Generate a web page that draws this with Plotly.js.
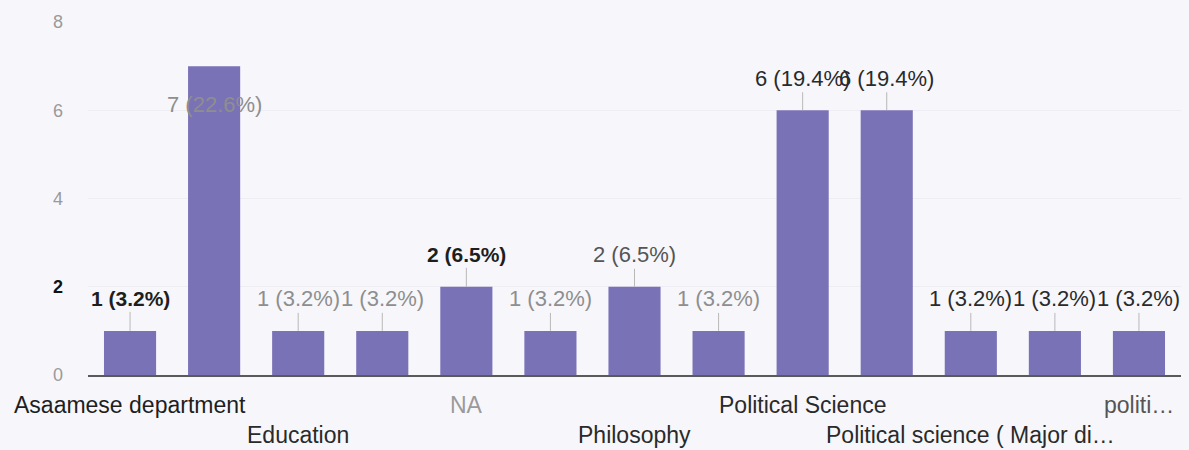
<!DOCTYPE html>
<html>
<head>
<meta charset="utf-8">
<script src="https://cdn.plot.ly/plotly-3.0.1.min.js"></script>
<style>
  html, body { margin: 0; padding: 0; background: #f7f7fb; }
  #chart { width: 1189px; height: 450px; }
</style>
</head>
<body>
<div id="chart"></div>
<script>
// Categories (Google Forms ordering); hidden ones are not labelled on the axis
const categories = [
  "Asaamese department", "Assamese", "Education", "English", "NA", "No department",
  "Philosophy", "Political", "Political Science", "Political science",
  "Political science ( Major di…", "Political science department", "politi…"
];
// Response counts
const counts = [1, 7, 1, 1, 2, 1, 2, 1, 6, 6, 1, 1, 1];
// Axis labels shown under the bars ("" = not shown); row 1 or row 2
const tickLabels = [
  "Asaamese department", "", "Education", "", "NA", "",
  "Philosophy", "", "Political Science", "", "Political science ( Major di…", "", "politi…"
];
const tickRows = [1, 0, 2, 0, 1, 0, 2, 0, 1, 0, 2, 0, 1];
const tickColors = ["#1e1e1e", "", "#2a2a2a", "", "#9a9a9a", "", "#2a2a2a", "", "#2a2a2a", "", "#2a2a2a", "", "#555555"];
// Value label colours (scan varies between dark and grey)
const labelColors = ["#1e1e1e", "#8e8e8e", "#8e8e8e", "#8e8e8e", "#1e1e1e", "#8e8e8e",
                     "#555555", "#8e8e8e", "#2a2a2a", "#2a2a2a", "#2a2a2a", "#2a2a2a", "#2a2a2a"];
const yTickVals = [0, 2, 4, 6, 8];
const yTickText = ["0", "<b><span style='color:#111'>2</span></b>", "4", "6", "8"];

const total = counts.reduce((a, b) => a + b, 0);
const maxCount = Math.max(...counts);
const FONT = "Liberation Sans, Arial, sans-serif";

const annotations = [];
counts.forEach((v, i) => {
  const txt = v + " (" + (v / total * 100).toFixed(1) + "%)";
  const bold = labelColors[i] === "#1e1e1e";
  if (v === maxCount) {
    // label drawn inside the tallest bar, below its top
    annotations.push({
      x: categories[i], y: v, xref: "x", yref: "y",
      text: txt, showarrow: false, yanchor: "middle", yshift: -38,
      font: { family: FONT, size: 22, color: labelColors[i] }
    });
  } else {
    annotations.push({
      x: categories[i], y: v, xref: "x", yref: "y",
      text: bold ? "<b>" + txt + "</b>" : txt,
      showarrow: true, arrowhead: 0, arrowwidth: 1, arrowcolor: "#b8b8b8",
      ax: 0, ay: -32,
      font: { family: FONT, size: bold ? 21 : 22, color: labelColors[i] }
    });
  }
  if (tickRows[i] > 0) {
    annotations.push({
      x: categories[i], y: 0, xref: "x", yref: "paper",
      text: tickLabels[i], showarrow: false, yanchor: "middle",
      yshift: tickRows[i] === 1 ? -30 : -60,
      font: { family: FONT, size: 23, color: tickColors[i] }
    });
  }
});

const trace = {
  type: "bar",
  x: categories,
  y: counts,
  marker: { color: "#7a72b7" },
  hoverinfo: "x+y"
};

const layout = {
  width: 1189, height: 450,
  paper_bgcolor: "#f7f7fb",
  plot_bgcolor: "#f7f7fb",
  margin: { l: 88, r: 8, t: 22, b: 75 },
  bargap: 0.38,
  showlegend: false,
  xaxis: {
    type: "category",
    range: [-0.5, 12.5],
    showticklabels: false,
    ticks: "",
    showgrid: false,
    showline: true, linecolor: "#5a5a5a", linewidth: 2,
    zeroline: false
  },
  yaxis: {
    range: [0, 8],
    tickvals: yTickVals,
    ticktext: yTickText,
    ticks: "",
    ticklabelstandoff: 24,
    tickfont: { family: FONT, size: 18, color: "#9a9a9a" },
    showgrid: true, gridcolor: "#ededf3", gridwidth: 1,
    zeroline: false,
    showline: false
  },
  annotations: annotations
};

Plotly.newPlot("chart", [trace], layout, { displayModeBar: false, staticPlot: true });
</script>
</body>
</html>
